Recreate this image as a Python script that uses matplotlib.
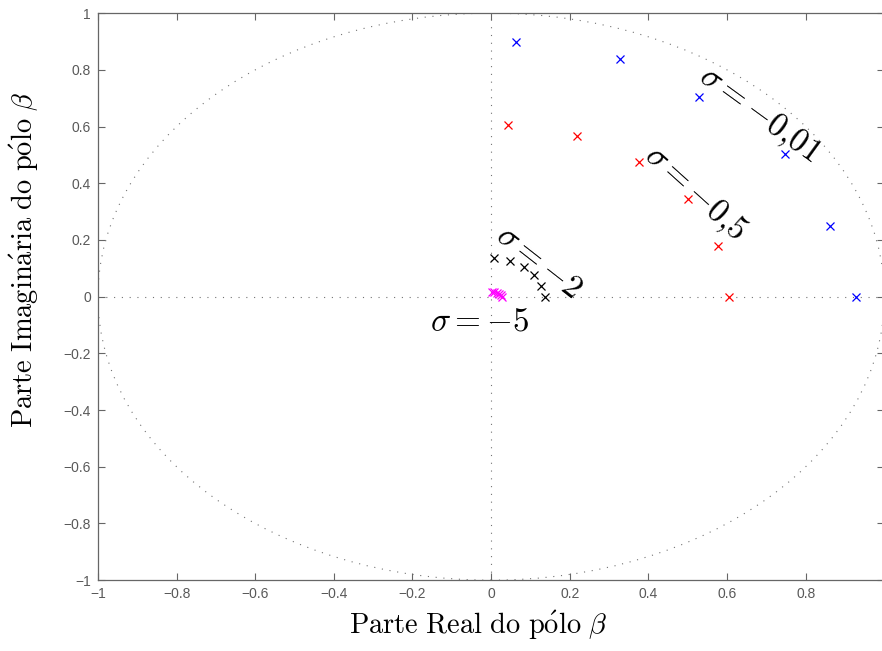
import matplotlib
matplotlib.use("Agg")
import matplotlib.pyplot as plt
from matplotlib.patches import Circle

# poles of beta for each sigma
sig001_re = [0.064, 0.328, 0.529, 0.747, 0.861, 0.927]
sig001_im = [0.898, 0.839, 0.703, 0.502, 0.248, 0.0]
sig05_re = [0.042, 0.219, 0.377, 0.500, 0.578, 0.606]
sig05_im = [0.607, 0.568, 0.475, 0.344, 0.180, 0.0]
sig2_re = [0.008, 0.048, 0.083, 0.110, 0.128, 0.136]
sig2_im = [0.138, 0.126, 0.106, 0.077, 0.039, 0.0]
sig5_re = [0.001, 0.008, 0.015, 0.021, 0.025, 0.027]
sig5_im = [0.018, 0.017, 0.014, 0.010, 0.005, 0.0]

tick_vals = [-1, -0.8, -0.6, -0.4, -0.2, 0, 0.2, 0.4, 0.6, 0.8, 1]
tick_labels = ['\u22121', '\u22120.8', '\u22120.6', '\u22120.4', '\u22120.2', '0',
               '0.2', '0.4', '0.6', '0.8', '1']

plt.rcParams['mathtext.fontset'] = 'cm'
plt.rcParams['font.family'] = ['Liberation Sans', 'DejaVu Sans']

fig = plt.figure(figsize=(8.82, 6.51), dpi=100)
ax = fig.add_axes([0.111, 0.1088, 0.8917, 0.871])

# reference unit circle and axes (dotted)
dots = (0, (1, 6))
ax.add_patch(Circle((0, 0), 1, fill=False, ec='0.45', lw=0.8, ls=dots, zorder=1))
ax.axhline(0, color='0.45', lw=0.8, ls=dots, zorder=1)
ax.axvline(0, color='0.45', lw=0.8, ls=dots, zorder=1)

mk = dict(ls='none', marker='x', ms=5.5, mew=0.9, zorder=3)
ax.plot(sig001_re, sig001_im, color='blue', **mk)
ax.plot(sig05_re, sig05_im, color='red', **mk)
ax.plot(sig2_re, sig2_im, color='black', **mk)
ax.plot(sig5_re, sig5_im, color='magenta', **mk)

lab = dict(fontsize=24, ha='center', va='center', rotation_mode='anchor')
ax.text(0.682, 0.640, r'$\sigma = -0{,}01$', rotation=-36, **lab)
ax.text(0.518, 0.362, r'$\sigma = -0{,}5$', rotation=-42, **lab)
ax.text(0.120, 0.122, r'$\sigma = -2$', rotation=-38, **lab)
ax.text(-0.028, -0.088, r'$\sigma = -5$', rotation=0, **lab)

ax.set_xlim(-1, 1)
ax.set_ylim(-1, 1)
ax.set_xticks(tick_vals)
ax.set_xticklabels(tick_labels)
ax.set_yticks(tick_vals)
ax.set_yticklabels(tick_labels)
ax.tick_params(direction='in', top=True, right=True, length=5, width=0.8,
               color='0.4', labelcolor='0.35', labelsize=10, pad=5)
for s in ax.spines.values():
    s.set_color('0.4')
    s.set_linewidth(0.9)

fig.text(478.5 / 882, 1 - 625 / 651, r'$\mathrm{Parte\ Real\ do\ p\acute{o}lo}\ \beta$',
         fontsize=20.5, ha='center', va='center')
fig.text(24 / 882, 1 - 260 / 651, r'$\mathrm{Parte\ Imagin\acute{a}ria\ do\ p\acute{o}lo}\ \beta$',
         fontsize=20.5, ha='center', va='center', rotation=90)

plt.savefig('out.png', dpi=100)
plt.close()
